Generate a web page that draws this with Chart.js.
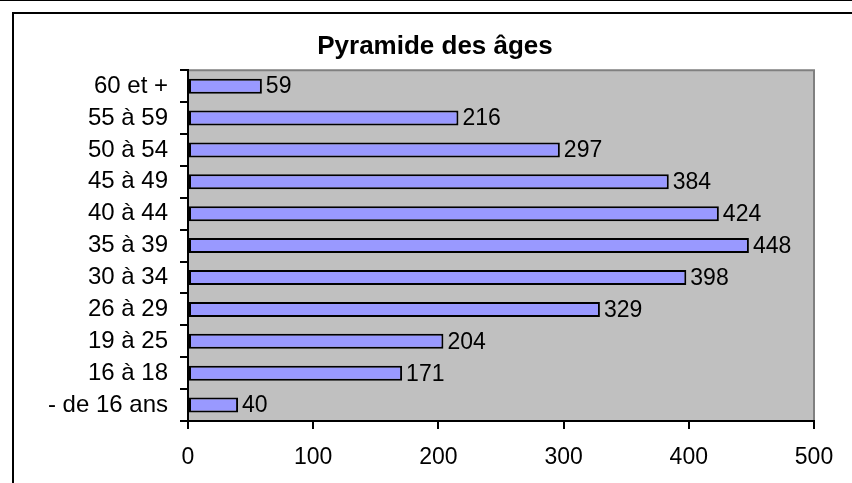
<!DOCTYPE html>
<html>
<head>
<meta charset="utf-8">
<script src="https://cdn.jsdelivr.net/npm/chart.js@4"></script>
<style>
  html, body { margin: 0; padding: 0; background: #fff; }
  #wrap { position: relative; width: 852px; height: 483px; overflow: hidden; }
  #topline { position: absolute; left: 0; top: 0; width: 852px; height: 1px; background: #000; }
  #frame { position: absolute; left: 12px; top: 12px; width: 900px; height: 500px;
           border-top: 2px solid #000; border-left: 2px solid #000; }
  canvas { position: absolute; left: 0; top: 0; }
</style>
</head>
<body>
<div id="wrap">
  <div id="topline"></div>
  <div id="frame"></div>
  <canvas id="barChart" width="852" height="483"></canvas>
</div>
<script>
const ages = ['60 et +', '55 à 59', '50 à 54', '45 à 49', '40 à 44', '35 à 39',
              '30 à 34', '26 à 29', '19 à 25', '16 à 18', '- de 16 ans'];
const effectifs = [59, 216, 297, 384, 424, 448, 398, 329, 204, 171, 40];
const xTicks = [0, 100, 200, 300, 400, 500];

const police = "'Liberation Sans', Arial, sans-serif";

// fond gris de la zone de tracé + bord gris haut/droite
const plotBackground = {
    id: 'plotBackground',
    afterLayout(chart) {
        // recentre le titre comme dans l'original
        if (chart.titleBlock) chart.titleBlock.left = 56;
    },
    beforeDraw(chart) {
        const { ctx, chartArea: a } = chart;
        ctx.save();
        ctx.fillStyle = '#C0C0C0';
        ctx.fillRect(a.left, a.top, a.right - a.left, a.bottom - a.top);
        ctx.strokeStyle = '#808080';
        ctx.lineWidth = 2;
        ctx.beginPath();
        ctx.moveTo(a.left, a.top);
        ctx.lineTo(a.right, a.top);
        ctx.lineTo(a.right, a.bottom);
        ctx.stroke();
        ctx.restore();
    }
};

// valeurs à droite des barres
const valueLabels = {
    id: 'valueLabels',
    afterDatasetsDraw(chart) {
        const { ctx } = chart;
        const meta = chart.getDatasetMeta(0);
        ctx.save();
        ctx.font = '23px ' + police;
        ctx.fillStyle = '#000';
        ctx.textAlign = 'left';
        ctx.textBaseline = 'middle';
        meta.data.forEach((bar, i) => {
            ctx.fillText(String(effectifs[i]), bar.x + 4, bar.y + 1);
        });
        ctx.restore();
    }
};

const config = {
    type: 'bar',
    data: {
        labels: ages,
        datasets: [
            {
                label: 'Effectif',
                data: effectifs,
                backgroundColor: '#9999FF',
                borderColor: '#000000',
                borderWidth: 2,
                borderSkipped: false,
                categoryPercentage: 1,
                barPercentage: 0.47
            }
        ]
    },
    options: {
        indexAxis: 'y',
        responsive: false,
        devicePixelRatio: 1,
        animation: false,
        layout: {
            padding: { left: 28, right: 38, top: 0, bottom: 0 }
        },
        scales: {
            x: {
                min: 0,
                max: 500,
                afterFit: s => { s.height = 62; },
                afterBuildTicks: s => { s.ticks = xTicks.map(v => ({ value: v })); },
                grid: {
                    drawOnChartArea: false,
                    color: '#000',
                    lineWidth: 2,
                    tickLength: 8
                },
                border: { color: '#000', width: 2 },
                ticks: {
                    color: '#000',
                    padding: 15,
                    font: { family: police, size: 23 }
                }
            },
            y: {
                afterFit: s => { s.width = 160; },
                grid: {
                    drawOnChartArea: false,
                    offset: true,
                    color: '#000',
                    lineWidth: 2,
                    tickLength: 8
                },
                border: { color: '#000', width: 2 },
                ticks: {
                    color: '#000',
                    padding: 12,
                    font: { family: police, size: 24 }
                }
            }
        },
        plugins: {
            legend: { display: false },
            tooltip: { enabled: false },
            title: {
                display: true,
                text: 'Pyramide des âges',
                color: '#000',
                font: { family: police, size: 26, weight: 'bold' },
                padding: { top: 31, bottom: 8 }
            }
        }
    },
    plugins: [plotBackground, valueLabels]
};

var ctx = document.getElementById('barChart').getContext('2d');
var barChart = new Chart(ctx, config);
</script>
</body>
</html>
